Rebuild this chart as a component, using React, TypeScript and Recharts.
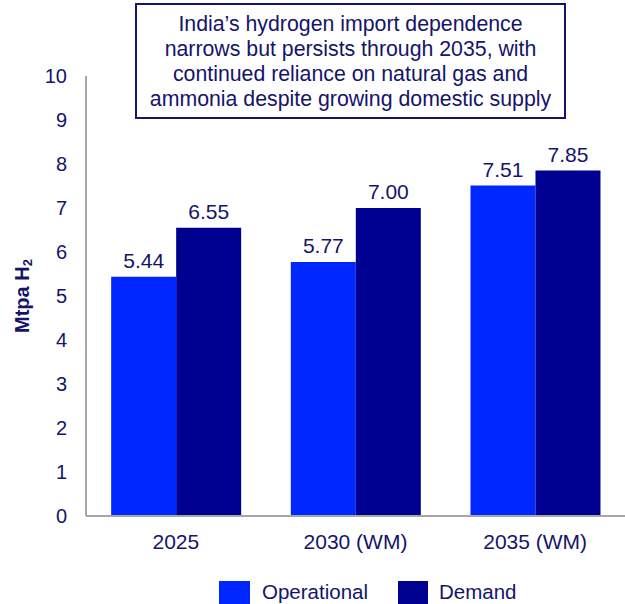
import { BarChart, Bar, XAxis, YAxis, LabelList } from 'recharts';

const categories = ['2025', '2030 (WM)', '2035 (WM)'];
const operational = [5.44, 5.77, 7.51];
const demand = [6.55, 7.0, 7.85];
const yTicks = [0, 1, 2, 3, 4, 5, 6, 7, 8, 9, 10];
const titleLines = [
  'India\u2019s hydrogen import dependence',
  'narrows but persists through 2035, with',
  'continued reliance on natural gas and',
  'ammonia despite growing domestic supply',
];

const data = categories.map((name, i) => ({
  name,
  operational: operational[i],
  demand: demand[i],
}));

const TEXT = '#14146b';
const OP_COLOR = '#0027ff';
const DEM_COLOR = '#000090';
const AXIS = '#a6a6a6';
const FONT = '"Liberation Sans", Arial, sans-serif';

// rotated y-axis title with a real subscript 2
function YTitle(props: any) {
  const vb = props.viewBox || {};
  const cx = 22;
  const cy = (vb.y ?? 76) + (vb.height ?? 440) / 2;
  return (
    <text
      transform={`rotate(-90 ${cx} ${cy})`}
      x={cx}
      y={cy}
      textAnchor="middle"
      dominantBaseline="central"
      fill={TEXT}
      fontFamily={FONT}
      fontWeight="bold"
      fontSize={20}
    >
      <tspan>Mtpa H</tspan>
      <tspan fontSize={13} dy={5}>2</tspan>
    </text>
  );
}

export default function App() {
  return (
    <div style={{ position: 'absolute', left: 0, top: 0, width: 625, height: 604, fontFamily: FONT, background: '#fff' }}>
      <BarChart
        width={625}
        height={604}
        data={data}
        margin={{ top: 76, right: 0, left: 26, bottom: 58 }}
        barCategoryGap="14%"
        barGap={0}
      >
        <XAxis
          dataKey="name"
          axisLine={{ stroke: AXIS, strokeWidth: 2 }}
          tickLine={false}
          tick={{ fill: TEXT, fontSize: 21, fontFamily: FONT }}
          height={30}
          tickMargin={12}
        />
        <YAxis
          domain={[0, 10]}
          ticks={yTicks}
          interval={0}
          axisLine={{ stroke: AXIS, strokeWidth: 2 }}
          tickLine={false}
          tick={{ fill: TEXT, fontSize: 20, fontFamily: FONT }}
          width={60}
          tickMargin={13}
          label={(p: any) => <YTitle {...p} />}
        />
        <Bar dataKey="operational" fill={OP_COLOR} isAnimationActive={false}>
          <LabelList
            dataKey="operational"
            position="top"
            offset={9}
            formatter={(v: number) => v.toFixed(2)}
            style={{ fill: TEXT, fontSize: 21, fontFamily: FONT }}
          />
        </Bar>
        <Bar dataKey="demand" fill={DEM_COLOR} isAnimationActive={false}>
          <LabelList
            dataKey="demand"
            position="top"
            offset={9}
            formatter={(v: number) => v.toFixed(2)}
            style={{ fill: TEXT, fontSize: 21, fontFamily: FONT }}
          />
        </Bar>
      </BarChart>

      <div
        style={{
          position: 'absolute',
          left: 135,
          top: 3,
          width: 431,
          height: 116,
          boxSizing: 'border-box',
          border: `2px solid ${TEXT}`,
          background: '#fff',
          color: TEXT,
          fontSize: 21.3,
          lineHeight: '25px',
          textAlign: 'center',
          paddingTop: 7,
        }}
      >
        {titleLines.map((l) => (
          <div key={l}>{l}</div>
        ))}
      </div>

      <div style={{ position: 'absolute', left: 219, top: 580, display: 'flex', alignItems: 'center', color: TEXT, fontSize: 20.5 }}>
        <span style={{ width: 31, height: 23, background: OP_COLOR, display: 'inline-block' }} />
        <span style={{ marginLeft: 12 }}>Operational</span>
        <span style={{ width: 30, height: 23, background: DEM_COLOR, display: 'inline-block', marginLeft: 30 }} />
        <span style={{ marginLeft: 11 }}>Demand</span>
      </div>
    </div>
  );
}
